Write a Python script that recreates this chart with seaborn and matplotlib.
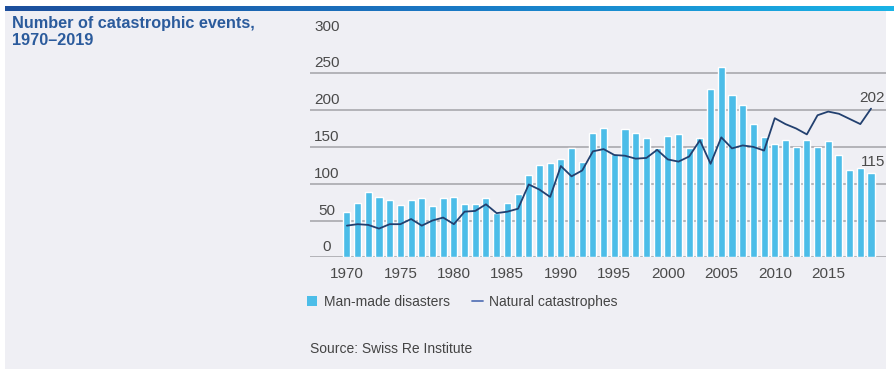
import numpy as np
import pandas as pd
import matplotlib
matplotlib.use("Agg")
import matplotlib.pyplot as plt
from matplotlib.patches import Rectangle
from matplotlib.lines import Line2D
from matplotlib.colors import LinearSegmentedColormap
import matplotlib.transforms as mtransforms
import seaborn as sns

years = list(range(1970, 2020))

man_made = [61, 74, 89, 82, 78, 71, 78, 81, 70, 81,
            82, 73, 73, 81, 60, 74, 86, 112, 125, 128,
            134, 148, 129, 169, 176, 140, 175, 169, 162, 148,
            165, 167, 148, 162, 228, 258, 220, 207, 181, 163,
            154, 159, 150, 159, 150, 158, 139, 119, 122, 115]

natural = [43, 45, 44, 39, 45, 45, 52, 43, 50, 54,
           45, 62, 63, 72, 60, 62, 66, 99, 92, 82,
           124, 110, 118, 144, 147, 139, 138, 134, 135, 146,
           133, 130, 137, 159, 127, 163, 148, 152, 150, 145,
           189, 181, 175, 167, 193, 198, 195, 188, 181, 202]

y_ticks = [0, 50, 100, 150, 200, 250, 300]
x_ticks = [1970, 1975, 1980, 1985, 1990, 1995, 2000, 2005, 2010, 2015]

title_text = "Number of catastrophic events,\n1970\u20132019"
legend_labels = ["Man-made disasters", "Natural catastrophes"]
source_text = "Source: Swiss Re Institute"

BAR = "#4cbde8"
LINE = "#22406f"
GRID = "#a3a3a8"
TICK = "#4a4a4a"
PANEL = "#efeff4"
TITLE = "#2b5b9c"
FONT = ["Liberation Sans", "DejaVu Sans"]

sns.set_theme(style="white")
plt.rcParams["font.family"] = FONT

W, H = 894, 370
fig = plt.figure(figsize=(W / 100, H / 100), dpi=100, facecolor="white")

# light panel behind everything
fig.patches.append(Rectangle((5 / W, 1 - 369 / H), 881 / W, 358 / H,
                             transform=fig.transFigure, facecolor=PANEL,
                             edgecolor="none", zorder=-10))

# gradient header strip
bar_ax = fig.add_axes([5 / W, 1 - 11 / H, 889 / W, 5 / H])
grad = np.linspace(0, 1, 256)[None, :]
cmap = LinearSegmentedColormap.from_list("hdr", ["#1d4f9c", "#1a78c4", "#19b3e6"])
bar_ax.imshow(grad, aspect="auto", cmap=cmap)
bar_ax.axis("off")

# main chart
ax = fig.add_axes([310 / W, 1 - 257.3 / H, 576 / W, (257.3 - 36.5) / H])
ax.set_facecolor("none")
ax.set_zorder(2)

df = pd.DataFrame({"year": years, "man_made": man_made, "natural": natural})

sns.barplot(data=df, x="year", y="man_made", native_scale=True, color=BAR,
            width=0.66, saturation=1, ax=ax)
for p in ax.patches:
    p.set_zorder(2)
sns.lineplot(data=df, x="year", y="natural", color=LINE, linewidth=1.3,
             ax=ax, zorder=3)

ax.set_xlim(1966.55, 2020.4)
ax.set_ylim(0, 300)
ax.set_yticks(y_ticks)
ax.set_xticks(x_ticks)
ax.set_xticklabels([str(t) for t in x_ticks], fontsize=11, color=TICK)
ax.tick_params(axis="x", length=0, pad=7)
ax.tick_params(axis="y", length=0, labelleft=False)
ax.set_xlabel("")
ax.set_ylabel("")
for s in ax.spines.values():
    s.set_visible(False)

for t in y_ticks:
    ax.axhline(t, color=GRID, linewidth=1.1, zorder=0.5)

# y labels sit just above each gridline
trans = mtransforms.blended_transform_factory(ax.transAxes, ax.transData)
for t in y_ticks:
    ax.text(0.0295, t + 4, str(t), transform=trans, ha="center", va="bottom",
            fontsize=11, color=TICK)

# end-of-series value labels
ax.text(2020.25, natural[-1] + 5, str(natural[-1]), ha="right", va="bottom",
        fontsize=11, color=TICK)
ax.text(2020.3, man_made[-1] + 5, str(man_made[-1]), ha="right", va="bottom",
        fontsize=11, color=TICK)

# title
fig.text(12 / W, 1 - 16 / H, title_text, ha="left", va="top", fontsize=11.7,
         fontweight="bold", color=TITLE, linespacing=1.2)

# legend
handles = [Rectangle((0, 0), 1, 1, facecolor=BAR, edgecolor="none"),
           Line2D([0], [0], color="#5a76b8", linewidth=1.3)]
fig.legend(handles, legend_labels, loc="center left",
           bbox_to_anchor=(294 / W, 1 - 302 / H), ncol=2, frameon=False,
           handlelength=0.75, handleheight=0.75, handletextpad=0.5,
           columnspacing=1.6, labelcolor="#444444",
           prop={"family": FONT, "size": 10})

fig.text(310 / W, 1 - 349 / H, source_text, ha="left", va="center",
         fontsize=10, color="#444444")

fig.savefig("out.png", dpi=100, facecolor="white")
